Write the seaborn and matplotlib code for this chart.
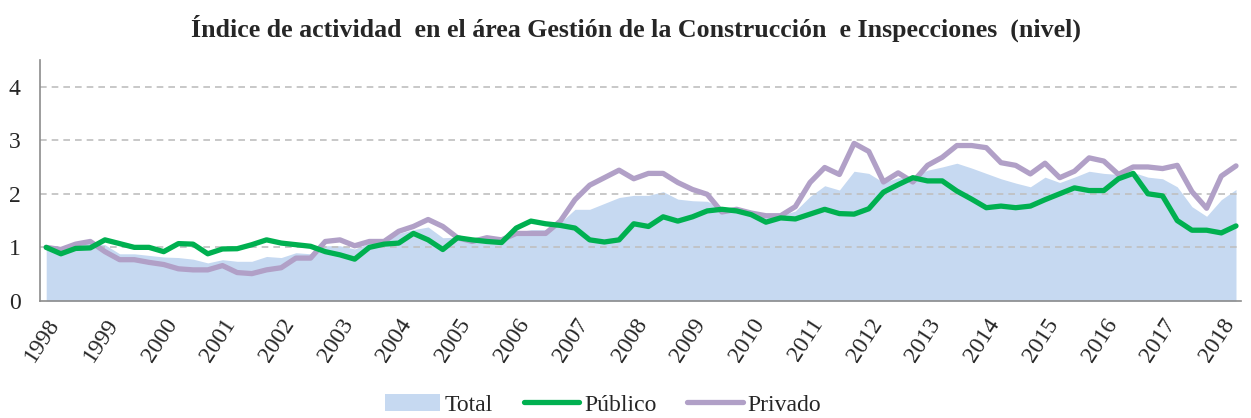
import numpy as np
import pandas as pd
import matplotlib
matplotlib.use("Agg")
import matplotlib.pyplot as plt
from matplotlib.patches import Patch
from matplotlib.lines import Line2D
import seaborn as sns

# quarterly index, 1998Q1 .. 2018Q2
years = list(range(1998, 2019))

total = [1.00, 0.93, 1.05, 1.08, 1.05, 0.88, 0.88, 0.85, 0.82, 0.81,
         0.78, 0.71, 0.77, 0.74, 0.74, 0.83, 0.81, 0.90, 0.88, 1.03,
         1.03, 0.97, 1.08, 1.11, 1.26, 1.33, 1.38, 1.18, 1.19, 1.14,
         1.10, 1.10, 1.28, 1.33, 1.33, 1.46, 1.71, 1.71, 1.82, 1.93,
         1.97, 1.97, 2.04, 1.90, 1.87, 1.86, 1.74, 1.71, 1.63, 1.59,
         1.59, 1.68, 1.95, 2.15, 2.07, 2.42, 2.38, 2.21, 2.30, 2.31,
         2.44, 2.50, 2.57, 2.48, 2.38, 2.28, 2.20, 2.13, 2.31, 2.21,
         2.31, 2.42, 2.38, 2.36, 2.40, 2.31, 2.28, 2.13, 1.76, 1.58,
         1.89, 2.08]

publico = [1.00, 0.88, 0.98, 0.99, 1.14, 1.07, 1.00, 1.00, 0.92, 1.07,
           1.06, 0.88, 0.97, 0.975, 1.05, 1.14, 1.08, 1.05, 1.02, 0.92,
           0.86, 0.78, 1.00, 1.06, 1.08, 1.26, 1.14, 0.96, 1.18, 1.14,
           1.11, 1.09, 1.36, 1.49, 1.44, 1.41, 1.36, 1.14, 1.10, 1.14,
           1.44, 1.39, 1.57, 1.49, 1.57, 1.68, 1.71, 1.68, 1.61, 1.47,
           1.55, 1.53, 1.62, 1.71, 1.63, 1.62, 1.72, 2.03, 2.17, 2.30,
           2.24, 2.24, 2.05, 1.90, 1.74, 1.77, 1.74, 1.77, 1.89, 2.00,
           2.11, 2.06, 2.06, 2.28, 2.38, 2.00, 1.96, 1.50, 1.32, 1.32,
           1.27, 1.40]

privado = [1.00, 0.96, 1.06, 1.11, 0.92, 0.77, 0.77, 0.72, 0.68, 0.60,
           0.58, 0.58, 0.66, 0.53, 0.51, 0.58, 0.62, 0.80, 0.80, 1.11,
           1.14, 1.03, 1.11, 1.11, 1.30, 1.39, 1.52, 1.39, 1.18, 1.11,
           1.18, 1.14, 1.26, 1.26, 1.26, 1.49, 1.89, 2.16, 2.30, 2.44,
           2.28, 2.38, 2.38, 2.21, 2.08, 1.99, 1.66, 1.71, 1.64, 1.59,
           1.59, 1.76, 2.21, 2.49, 2.36, 2.94, 2.79, 2.22, 2.39, 2.22,
           2.53, 2.68, 2.90, 2.90, 2.86, 2.58, 2.53, 2.37, 2.57, 2.30,
           2.42, 2.67, 2.61, 2.36, 2.50, 2.50, 2.47, 2.53, 2.04, 1.73,
           2.33, 2.52]

c_total = "#C6D9F1"
c_pub = "#00B050"
c_priv = "#B1A0C7"

df = pd.DataFrame({
    "t": 1998 + np.arange(len(total)) / 4.0,
    "Total": total,
    "Público": publico,
    "Privado": privado,
})

sns.set_style("white")
plt.rcParams["font.family"] = ["Liberation Serif", "DejaVu Serif"]

fig = plt.figure(figsize=(12.51, 4.18), dpi=100)
ax = fig.add_axes([0.032, 0.280, 0.960, 0.577])

ax.fill_between(df["t"], 0, df["Total"], color=c_total, linewidth=0, zorder=1)
sns.lineplot(data=df, x="t", y="Público", color=c_pub, linewidth=3.8,
             ax=ax, zorder=3)
sns.lineplot(data=df, x="t", y="Privado", color=c_priv, linewidth=3.8,
             ax=ax, zorder=2)

ax.set_xlim(1998 - 0.105, 1998 + 81 / 4 + 0.085)
ax.set_ylim(0, 4.5)
ax.set_yticks([0, 1, 2, 3, 4])
ax.set_xticks(years)
ax.set_xticklabels([str(y) for y in years], rotation=57, ha="right",
                   rotation_mode="anchor", fontsize=17)
ax.tick_params(axis="y", labelsize=17, length=0, pad=14)
ax.tick_params(axis="x", length=0, pad=10)
ax.set_xlabel("")
ax.set_ylabel("")

for y in [1, 2, 3, 4]:
    ax.axhline(y, color="#BFBFBF", linestyle=(0, (4, 3)), linewidth=1.2,
               zorder=1.5)

for s in ["top", "right"]:
    ax.spines[s].set_visible(False)
for s in ["left", "bottom"]:
    ax.spines[s].set_color("#8C8C8C")
    ax.spines[s].set_linewidth(1.2)

fig.suptitle("Índice de actividad  en el área Gestión de la Construcción  e Inspecciones  (nivel)",
             fontsize=18.6, fontweight="bold", x=0.508, y=0.965)

handles = [Patch(facecolor=c_total, edgecolor="none"),
           Line2D([0], [0], color=c_pub, linewidth=3.8),
           Line2D([0], [0], color=c_priv, linewidth=3.8)]
fig.legend(handles, ["Total", "Público", "Privado"], loc="lower center",
           bbox_to_anchor=(0.482, -0.045), ncol=3, frameon=False, fontsize=17,
           handlelength=2.35, handletextpad=0.2, columnspacing=1.3)

fig.savefig("out.png", dpi=100)
